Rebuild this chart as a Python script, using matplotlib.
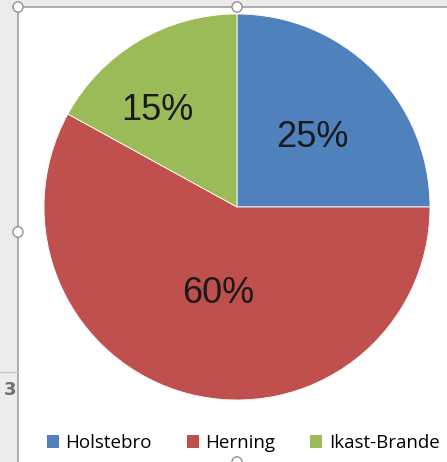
import numpy as np
import matplotlib
matplotlib.use('Agg')
import matplotlib.pyplot as plt
from matplotlib.patches import Rectangle, Patch, Circle

# ── Data ──
regions = ["Holstebro", "Herning", "Ikast-Brande"]
shares = [25, 58, 17]            # wedge sizes as drawn
labels = ["25%", "60%", "15%"]   # labels as printed on the chart
colors = ["#4F81BD", "#C0504D", "#9BBB59"]
label_xy = [(0.39, 0.36), (-0.10, -0.45), (-0.41, 0.50)]

W, H = 447, 462
fig = plt.figure(figsize=(W / 100, H / 100), dpi=100)
fig.patch.set_facecolor("#ececec")

# chart frame (white area with grey border)
frame = Rectangle((18 / W, -0.01), 1.0, 1 - 7 / H + 0.01, transform=fig.transFigure,
                  facecolor="white", edgecolor="#a0a0a0", linewidth=1.2, zorder=-1)
fig.patches.append(frame)
fig.add_artist(plt.Line2D([0, 18 / W], [1 - 372 / H] * 2, color="#c8c8c8", lw=1))
fig.text(10 / W, 1 - 390 / H, "3", fontsize=13, color="#707070",
         ha="center", va="center", fontweight="bold")
for cx, cy in [(18, 7), (237, 7), (18, 232), (237, 462)]:
    fig.patches.append(Circle((cx / W, 1 - cy / H), 5 / W, transform=fig.transFigure,
                              facecolor="white", edgecolor="#909090", linewidth=1, zorder=5))

# ── Pie ──
ax = fig.add_axes([44 / W, 62 / H, 386 / W, 386 / H])
ax.set_zorder(1)
wedges, _ = ax.pie(shares, colors=colors, startangle=90, counterclock=False,
                   radius=1.0, wedgeprops=dict(edgecolor="white", linewidth=0.6))
ax.set_xlim(-1, 1)
ax.set_ylim(-1, 1)
ax.axis("off")

for lab, (x, y) in zip(labels, label_xy):
    ax.text(x, y, lab, ha="center", va="center",
            fontsize=26, family="Liberation Sans", color="#1a1a1a")

# ── Legend ──
handles = [Patch(facecolor=c, edgecolor="none") for c in colors]
fig.legend(handles, regions, loc="center", bbox_to_anchor=(243 / W, 1 - 443 / H),
           ncol=3, frameon=False, handlelength=0.65, handleheight=0.65,
           handletextpad=0.35, columnspacing=1.85,
           prop={"family": "Open Sans", "size": 13.5})

plt.savefig("out.png", dpi=100, facecolor=fig.get_facecolor())
